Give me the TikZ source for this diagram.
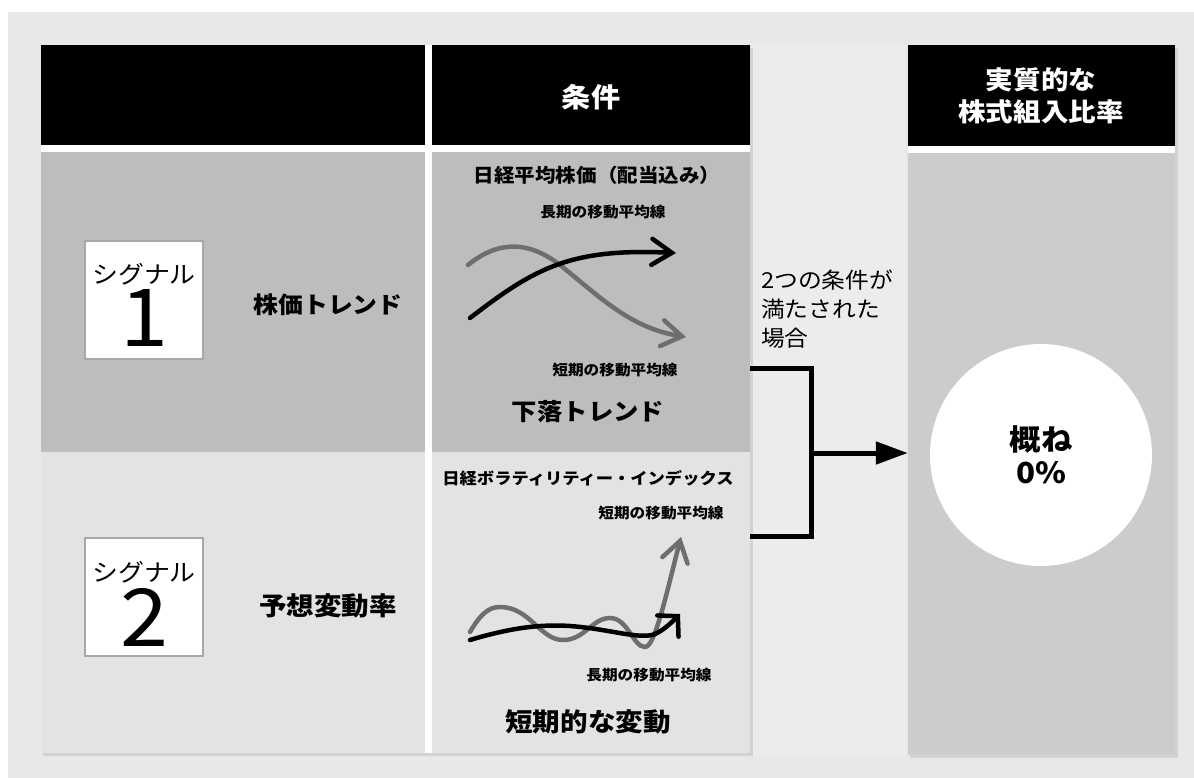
\documentclass[tikz,border=0pt]{standalone}
\usepackage{fontspec}
\setmainfont{Noto Sans CJK JP}[FakeStretch=1.08]
\usetikzlibrary{arrows.meta}
\definecolor{bgc}{HTML}{E8E8E8}
\definecolor{strip}{HTML}{ECECEC}
\definecolor{rowa}{HTML}{BDBDBD}
\definecolor{rowb}{HTML}{E3E3E3}
\definecolor{rpan}{HTML}{CCCCCC}
\definecolor{shd}{HTML}{D2D2D2}
\definecolor{gline}{HTML}{6E6E6E}
\definecolor{boxedge}{HTML}{A8A8A8}
\tikzset{
  hdrfill/.style={fill=black},
  lbl/.style={inner sep=0pt, anchor=center},
  sigtext/.style={inner sep=0pt, anchor=center, align=center, font=\fontsize{24}{24}\selectfont},
  sigbox/.style={fill=white, draw=boxedge, line width=2pt, minimum width=118, minimum height=118, inner sep=0pt},
  curveblack/.style={line width=4.5pt, black, line cap=round, -{Straight Barb[length=20pt,width=26pt,line cap=round]}},
  curvegray/.style={line width=4.5pt, gline, line cap=round, -{Straight Barb[length=20pt,width=26pt,line cap=round]}},
  bracketline/.style={line width=5pt, black},
}
\newcommand\bigdigit[1]{{\fontsize{80}{80}\selectfont #1}}
\begin{document}
\begin{tikzpicture}[x=1pt,y=-1pt]
\useasboundingbox (0,0) rectangle (1194,778);
\fill[white] (0,0) rectangle (1194,778);
\fill[bgc] (8,12) rectangle (1194,778);
% lighter strip between panels
\fill[strip] (752,45) rectangle (906,755);
% shadows
\fill[shd] (43,48) rectangle (753,756);
\fill[shd] (910,48) rectangle (1178,758);
% left panel
\fill[white] (41,45) rectangle (750,753);
\fill[hdrfill] (41,45) rectangle (425,145);
\fill[hdrfill] (432,45) rectangle (750,145);
\fill[rowa] (41,152) rectangle (425,452);
\fill[rowa] (432,152) rectangle (750,452);
\fill[rowb] (41,452) rectangle (425,753);
\fill[rowb] (432,452) rectangle (750,753);
% right panel
\node[fill=rpan, minimum width=267, minimum height=710, inner sep=0pt] (rpanel) at (1041.5,400) {};
\fill[hdrfill] (908,45) rectangle (1175,146);
\fill[white] (908,146) rectangle (1175,153);

% headers
\node[lbl, white, font=\bfseries\fontsize{27}{30}\selectfont] (hcond) at (591,97) {条件};
\node[lbl, white, font=\bfseries\fontsize{25.5}{32}\selectfont, align=center] (hratio) at (1041,96) {実質的な\\株式組入比率};

% signal boxes
\node[sigbox] (s1) at (144,300) {};
\node[sigtext] (s1t) at (144,305) {シグナル\\[4pt]\bigdigit{1}};
\node[lbl, font=\bfseries\fontsize{23}{26}\selectfont] (t1) at (328,305) {株価トレンド};

\node[sigbox] (s2) at (144,597) {};
\node[sigtext] (s2t) at (144,604) {シグナル\\[4pt]\bigdigit{2}};
\node[lbl, font=\bfseries\fontsize{25.5}{28}\selectfont] (t2) at (328,606) {予想変動率};

% condition 1
\node[lbl, font=\bfseries\fontsize{19}{22}\selectfont] (c1h) at (597,175) {日経平均株価（配当込み）};
\node[lbl, font=\bfseries\fontsize{14.5}{17}\selectfont] (c1l) at (603,212) {長期の移動平均線};
\node[lbl, font=\bfseries\fontsize{14.5}{17}\selectfont] (c1s) at (615,370) {短期の移動平均線};
\node[lbl, font=\bfseries\fontsize{23.5}{27}\selectfont] (c1t) at (588,412) {下落トレンド};
\draw[curvegray] (468,265) .. controls (495,243) and (525,238) .. (560,265)
   .. controls (600,297) and (630,328) .. (686,337);
\draw[curveblack] (470,318) .. controls (535,268) and (570,248) .. (676,253);

% condition 2
\node[lbl, font=\bfseries\fontsize{16}{20}\selectfont] (c2h) at (588,478) {日経ボラティリティー・インデックス};
\node[lbl, font=\bfseries\fontsize{14.5}{17}\selectfont] (c2s) at (661,513) {短期の移動平均線};
\node[lbl, font=\bfseries\fontsize{14.5}{17}\selectfont] (c2l) at (649,675) {長期の移動平均線};
\node[lbl, font=\bfseries\fontsize{25.5}{28}\selectfont] (c2t) at (588,722) {短期的な変動};
\draw[curvegray] (470,632) .. controls (480,615) and (488,607) .. (500,607)
   .. controls (530,607) and (540,640) .. (563,640)
   .. controls (585,640) and (592,618) .. (610,618)
   .. controls (628,618) and (633,647) .. (645,647)
   .. controls (655,647) and (666,595) .. (681,537);
\draw[curveblack, -{Straight Barb[length=14pt,width=30pt,line cap=round]}] (470,640) .. controls (510,628) and (540,624) .. (570,626)
   .. controls (610,629) and (640,640) .. (655,634)
   .. controls (664,630) and (672,622) .. (680,614);

% bracket and arrow
\coordinate (b1) at (750,368);
\coordinate (b2) at (750,536);
\coordinate (bj) at (811,453);
\draw[bracketline] (b1) -- (811,368) -- (811,536) -- (b2);
\draw[bracketline, -{Triangle[length=32pt,width=22pt]}] (bj) -- (rpanel.west |- bj);
\node[lbl, anchor=west, align=left, font=\fontsize{22}{29}\selectfont] (cond) at (761,309) {2つの条件が\\満たされた\\場合};

% circle
\node[circle, fill=white, minimum size=222, inner sep=0pt, align=center, font=\bfseries\fontsize{29}{33}\selectfont] (circ) at (1041,455) {概ね\\0\%};
\end{tikzpicture}
\end{document}
